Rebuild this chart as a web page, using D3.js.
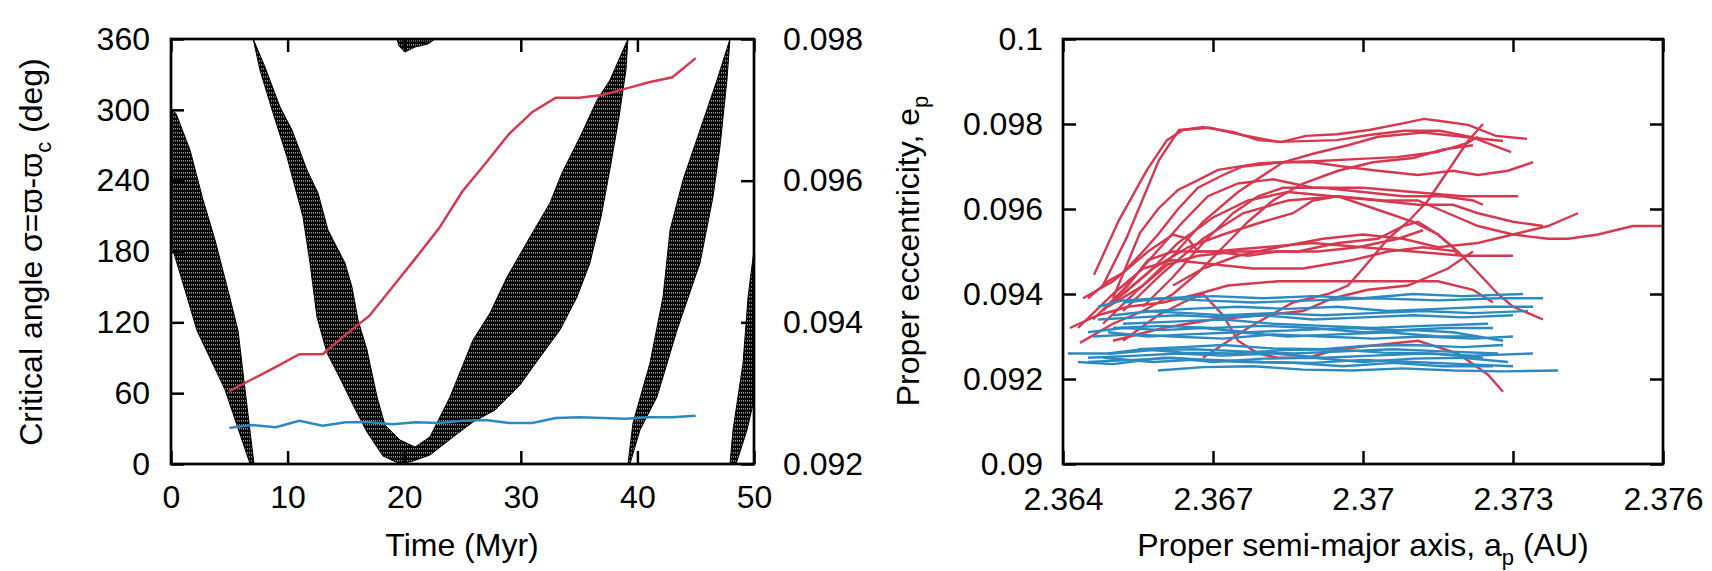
<!DOCTYPE html>
<meta charset="utf-8" />
<html>
<head>
<style>
  body { margin: 0; background: #fff; }
  text { font-family: "Liberation Sans", Arial, "DejaVu Sans", sans-serif; fill: #000; }
  .axis path { display: none; }
  .axis line { stroke: #000; stroke-width: 2.5px; }
  .axis text { font-size: 32px; }
</style>
</head>
<body>
<svg width="1712" height="571"></svg>
<script src="https://cdn.jsdelivr.net/npm/d3@7"></script>
<script>
// ---- left panel data ----
var timeTicks = [0, 10, 20, 30, 40, 50];
var angleTicks = [0, 60, 120, 180, 240, 300, 360];
var eccLeftTicks = [0.092, 0.094, 0.096, 0.098];

// sampling times of the two eccentricity tracks (Myr)
var trackTime = [5, 7, 9, 11, 13, 15, 17, 19, 21, 23, 25, 27, 29, 31, 33, 35, 37, 39, 41, 43, 45];
var redEcc = [0.09303, 0.09320, 0.09337, 0.09355, 0.09355, 0.09383, 0.09409, 0.09450, 0.09491, 0.09533,
  0.09585, 0.09625, 0.09666, 0.09697, 0.09717, 0.09717, 0.09721, 0.09730, 0.09739, 0.09746, 0.09773];
var blueEcc = [0.09251, 0.09255, 0.09252, 0.09261, 0.09254, 0.09259, 0.09259, 0.09256, 0.09259, 0.09258,
  0.09261, 0.09262, 0.09258, 0.09258, 0.09265, 0.09266, 0.09265, 0.09264, 0.09266, 0.09266, 0.09268];

// outlines [time, angle] of the dense circulating band of the critical angle
var bandA = [[0, 300], [0.43, 297], [1.63, 266], [2.74, 224], [3.77, 190], [4.89, 147], [5.75, 113], [6.35, 63],
  [7.12, 0], [6.78, 0], [4.63, 63], [2.23, 113], [0.94, 156], [0.17, 181], [0, 190]];
var bandB = [[7.05, 360], [8.06, 336.3], [9.35, 302.4], [10.38, 282.9], [11.66, 249.0], [12.61, 229.5],
  [13.46, 198.2], [14.92, 170.3], [15.52, 149.9], [16.04, 122.0], [16.81, 96.6], [17.67, 56.8], [18.35, 33.0],
  [19.64, 20.3], [20.93, 14.4], [22.21, 22.9], [23.93, 56.8], [25.90, 105.0], [27.36, 127.9], [28.82, 158.4],
  [30.79, 192.3], [32.50, 221.1], [33.53, 246.5], [35.08, 277.0], [36.54, 308.3], [37.65, 325.3], [38.51, 344.7],
  [39.19, 360], [39.02, 333.7], [38.42, 293.9], [37.74, 255.0], [36.88, 209.2], [35.93, 170.3], [34.82, 141.5],
  [33.36, 113.5], [31.65, 90.6], [29.93, 66.9], [27.79, 45.7], [25.90, 35.6], [24.19, 22.9], [22.21, 7.6],
  [20.75, 2.5], [19.64, 0], [18.18, 6.8], [16.81, 27.1], [15.61, 50.0], [14.49, 72.8], [13.38, 94.0],
  [12.52, 124.5], [11.92, 170.3], [11.32, 209.2], [9.95, 260.0], [8.75, 297.3], [7.63, 333.7]];
var bandC = [[39.19, 0], [39.62, 34.7], [41.08, 85.5], [42.20, 141.5], [42.80, 198.2], [43.91, 240.6],
  [45.37, 282.9], [46.83, 325.3], [47.94, 360], [47.68, 325.3], [47.08, 268.5], [46.48, 226.2], [45.37, 170.3],
  [43.40, 113.5], [41.68, 56.8], [40.22, 28.8], [39.36, 0]];
var bandD = [[47.94, 0], [48.20, 28.8], [49.06, 85.5], [49.49, 141.5], [50, 181.3], [50, 54.2], [49.40, 28.8], [48.46, 0]];
var bandE = [[19.38, 360], [22.64, 360], [22.04, 355.8], [20.93, 353.2], [20.07, 349], [19.55, 354]];
var bands = [bandA, bandB, bandC, bandD, bandE];

// ---- right panel data ----
var semiTicks = [2.364, 2.367, 2.37, 2.373, 2.376];
var semiLabels = ["2.364", "2.367", "2.37", "2.373", "2.376"];
var eccTicks = [0.09, 0.092, 0.094, 0.096, 0.098, 0.1];
var eccLabels = ["0.09", "0.092", "0.094", "0.096", "0.098", "0.1"];

// [a_p, e_p] tracks
var redTracks = [
  [[2.36462, 0.09445], [2.36512, 0.09574], [2.36568, 0.09692], [2.36608, 0.09762], [2.3664, 0.09786], [2.3668, 0.09793], [2.36742, 0.09781], [2.3679, 0.09762], [2.36838, 0.09758], [2.36886, 0.09772], [2.36948, 0.09776], [2.37012, 0.09786], [2.37082, 0.09802], [2.37122, 0.09812], [2.37154, 0.09807], [2.3721, 0.09798], [2.37266, 0.09772], [2.37328, 0.09765]],
  [[2.36478, 0.09416], [2.36528, 0.09534], [2.36592, 0.09715], [2.36632, 0.09786], [2.36694, 0.09791], [2.36758, 0.09774], [2.3683, 0.09758], [2.36948, 0.09762], [2.37012, 0.09774], [2.37082, 0.09784], [2.37154, 0.09784], [2.37218, 0.09769], [2.37296, 0.09734]],
  [[2.3645, 0.0939], [2.3649, 0.0943], [2.3652, 0.0945], [2.3656, 0.0950], [2.3659, 0.0954], [2.3663, 0.0960], [2.3667, 0.0965], [2.3672, 0.0968], [2.3676, 0.0970], [2.3684, 0.0971], [2.3690, 0.0971], [2.3696, 0.0970], [2.3703, 0.0969], [2.3711, 0.0968], [2.3718, 0.0969], [2.3723, 0.0968], [2.3729, 0.0969], [2.3734, 0.0971]],
  [[2.3646, 0.0934], [2.3652, 0.0941], [2.3658, 0.0949], [2.3664, 0.0957], [2.3669, 0.0963], [2.3675, 0.0966], [2.3682, 0.0967], [2.3690, 0.0965], [2.3700, 0.0965], [2.3710, 0.0964], [2.3720, 0.0963], [2.3731, 0.0963]],
  [[2.3649, 0.0937], [2.3656, 0.0942], [2.3662, 0.0949], [2.3668, 0.0957], [2.3675, 0.0964], [2.3684, 0.0971], [2.3690, 0.0973], [2.3697, 0.0975], [2.3703, 0.0977], [2.3712, 0.0978], [2.3720, 0.0977], [2.3728, 0.0976]],
  [[2.3650, 0.0939], [2.36554, 0.09544], [2.3659, 0.0960], [2.3663, 0.09645], [2.3667, 0.09668], [2.3671, 0.09692], [2.36748, 0.09699], [2.36794, 0.09708], [2.36834, 0.0971], [2.36914, 0.09713], [2.36994, 0.09718], [2.37068, 0.09722], [2.37148, 0.09734], [2.37208, 0.09755], [2.3723, 0.0977]],
  [[2.3650, 0.0938], [2.3657, 0.0945], [2.3663, 0.0952], [2.3670, 0.0958], [2.3677, 0.0962], [2.3685, 0.0964], [2.3694, 0.0963], [2.3703, 0.0962], [2.3711, 0.0961], [2.3718, 0.0961], [2.3723, 0.0959], [2.3730, 0.0957], [2.3736, 0.0956]],
  [[2.3652, 0.0936], [2.3660, 0.0945], [2.3668, 0.0953], [2.3676, 0.0959], [2.3685, 0.0962], [2.3695, 0.0963], [2.3704, 0.0962], [2.3711, 0.0962], [2.3717, 0.0959], [2.3723, 0.0956], [2.3730, 0.0954], [2.3737, 0.0953], [2.3741, 0.0953], [2.3747, 0.0954], [2.3754, 0.0956], [2.3760, 0.0956]],
  [[2.3662, 0.0942], [2.3668, 0.0946], [2.3675, 0.0949], [2.3683, 0.0951], [2.3692, 0.0953], [2.3700, 0.0954], [2.3708, 0.0953], [2.3715, 0.0951], [2.3723, 0.0952], [2.3730, 0.0954], [2.3737, 0.0956], [2.3743, 0.0959]],
  [[2.3648, 0.0936], [2.3653, 0.0942], [2.3657, 0.0948], [2.3662, 0.0950], [2.3670, 0.0950], [2.3680, 0.0951], [2.3690, 0.0952], [2.3700, 0.0951], [2.3710, 0.0950], [2.3720, 0.0949], [2.3730, 0.0949]],
  [[2.3644, 0.0939], [2.3650, 0.0943], [2.3657, 0.0950], [2.3662, 0.0954], [2.3665, 0.0953], [2.3667, 0.0950], [2.3670, 0.0950], [2.3677, 0.0949], [2.3683, 0.0950], [2.3691, 0.0950], [2.3699, 0.0951], [2.3707, 0.0953], [2.3712, 0.0955]],
  [[2.3652, 0.0940], [2.3658, 0.0946], [2.3665, 0.0951], [2.3672, 0.0954], [2.3680, 0.0957], [2.3686, 0.0959], [2.3690, 0.0962], [2.3695, 0.0963], [2.3700, 0.0961], [2.3705, 0.0959], [2.3710, 0.0957], [2.3715, 0.0954], [2.3718, 0.0951], [2.3719, 0.0949]],
  [[2.3656, 0.0937], [2.3662, 0.0944], [2.3668, 0.0952], [2.3674, 0.0959], [2.3679, 0.0963], [2.3684, 0.0965], [2.3692, 0.0965], [2.3700, 0.0964], [2.3708, 0.0963], [2.3716, 0.0963], [2.3722, 0.0962], [2.3724, 0.0961]],
  [[2.3668, 0.0925], [2.3677, 0.0932], [2.3686, 0.0938], [2.3693, 0.0940], [2.3697, 0.0942], [2.3700, 0.0946], [2.3705, 0.0953], [2.3709, 0.0957], [2.3713, 0.0962], [2.3717, 0.0969], [2.3721, 0.0976], [2.3724, 0.0980]],
  [[2.3652, 0.0929], [2.3659, 0.0935], [2.3664, 0.0938], [2.3668, 0.0940], [2.3672, 0.0935], [2.3675, 0.0929], [2.3679, 0.0926], [2.3683, 0.0925], [2.3689, 0.0925], [2.3695, 0.0927], [2.3703, 0.0928], [2.3711, 0.0929], [2.3719, 0.0926], [2.3725, 0.0921], [2.3728, 0.0917]],
  [[2.3648, 0.0933], [2.3655, 0.0941], [2.3661, 0.0947], [2.3667, 0.0949], [2.3675, 0.0950], [2.3687, 0.0950], [2.3695, 0.0952], [2.3703, 0.0953], [2.3708, 0.0956], [2.3711, 0.0957], [2.3715, 0.0954], [2.3719, 0.0950], [2.3723, 0.0945], [2.3727, 0.0940], [2.3730, 0.0937], [2.3736, 0.0934]],
  [[2.3650, 0.0929], [2.3660, 0.0932], [2.3670, 0.0934], [2.3680, 0.0935], [2.3688, 0.0936], [2.3694, 0.0939], [2.3701, 0.0941], [2.3709, 0.0942], [2.3717, 0.0946], [2.3722, 0.0950]],
  [[2.36414, 0.0932], [2.3647, 0.0935], [2.3653, 0.0937], [2.3660, 0.0938], [2.3667, 0.0940], [2.3673, 0.0942], [2.3683, 0.0943], [2.3695, 0.0943], [2.3705, 0.0943], [2.3715, 0.0943], [2.3722, 0.0941], [2.3726, 0.0938]],
  [[2.3643, 0.0932], [2.3650, 0.0940], [2.3656, 0.0946], [2.3662, 0.0948], [2.3670, 0.0947], [2.3678, 0.0946], [2.3688, 0.0946], [2.3698, 0.0948], [2.3705, 0.0950], [2.3712, 0.0951], [2.3719, 0.0950]],
  [[2.36434, 0.09285], [2.3650, 0.0933], [2.3656, 0.0936], [2.3662, 0.0940], [2.3667, 0.0945], [2.3672, 0.0951], [2.3677, 0.0957], [2.3682, 0.0962], [2.3688, 0.0966], [2.3695, 0.0969], [2.3702, 0.0971], [2.3710, 0.0972], [2.3716, 0.0974], [2.3722, 0.0975]]
];

var blueTracks = [
  [[2.3647, 0.0937], [2.3652, 0.09385], [2.3660, 0.0939], [2.3670, 0.09395], [2.3680, 0.0939], [2.3690, 0.09395], [2.3700, 0.0939], [2.3710, 0.0940], [2.3720, 0.09395], [2.3732, 0.0940]],
  [[2.3652, 0.0938], [2.3660, 0.0939], [2.3668, 0.09385], [2.3678, 0.0938], [2.3690, 0.09385], [2.3702, 0.0939], [2.3715, 0.09385], [2.3727, 0.0939], [2.3736, 0.0939]],
  [[2.3650, 0.0935], [2.3658, 0.0936], [2.3665, 0.09365], [2.3675, 0.0937], [2.3685, 0.09365], [2.3695, 0.0937], [2.3705, 0.0936], [2.3715, 0.09365], [2.3725, 0.0937], [2.3734, 0.0937]],
  [[2.3656, 0.0936], [2.3665, 0.09355], [2.3672, 0.0935], [2.3682, 0.09355], [2.3692, 0.0935], [2.3702, 0.09355], [2.3712, 0.0936], [2.3722, 0.09355], [2.3733, 0.0936]],
  [[2.3647, 0.0934], [2.3655, 0.09345], [2.3663, 0.0935], [2.3672, 0.09345], [2.3680, 0.0935], [2.3690, 0.0934], [2.3700, 0.09345], [2.3710, 0.0935], [2.3720, 0.09345], [2.3730, 0.0935]],
  [[2.3652, 0.0933], [2.3662, 0.09335], [2.3672, 0.0934], [2.3682, 0.0933], [2.3692, 0.09325], [2.3702, 0.0932], [2.3712, 0.09325], [2.3725, 0.0933]],
  [[2.3645, 0.0931], [2.3652, 0.0932], [2.3660, 0.09315], [2.3668, 0.0932], [2.3677, 0.0931], [2.3687, 0.09315], [2.3697, 0.0932], [2.3707, 0.09315], [2.3717, 0.0932], [2.3726, 0.0932]],
  [[2.3649, 0.0931], [2.3657, 0.0930], [2.3665, 0.09305], [2.3675, 0.0931], [2.3685, 0.0930], [2.3695, 0.09305], [2.3705, 0.0931], [2.3715, 0.0930], [2.3723, 0.0930]],
  [[2.3646, 0.0930], [2.3654, 0.09305], [2.3662, 0.0930], [2.3672, 0.09295], [2.3682, 0.09305], [2.3692, 0.0930], [2.3702, 0.09295], [2.3712, 0.0930], [2.3722, 0.09295], [2.3730, 0.0930]],
  [[2.3650, 0.0932], [2.3660, 0.09325], [2.3670, 0.0932], [2.3680, 0.09325], [2.3690, 0.0932], [2.3700, 0.0931], [2.3710, 0.09315], [2.3718, 0.0931], [2.3728, 0.0929]],
  [[2.3641, 0.0926], [2.3650, 0.0926], [2.3658, 0.09268], [2.3666, 0.0927], [2.3676, 0.09265], [2.3686, 0.0926], [2.3696, 0.09265], [2.3706, 0.0927], [2.3716, 0.09265], [2.3727, 0.0926]],
  [[2.3645, 0.0925], [2.3655, 0.09255], [2.3663, 0.0926], [2.3672, 0.09255], [2.3682, 0.0926], [2.3692, 0.0925], [2.3702, 0.09255], [2.3712, 0.0926], [2.3722, 0.09255], [2.3734, 0.0926]],
  [[2.3645, 0.0924], [2.3654, 0.09245], [2.3662, 0.0925], [2.3670, 0.0924], [2.3680, 0.09248], [2.3690, 0.0925], [2.3700, 0.0924], [2.3710, 0.09248], [2.3720, 0.0925], [2.3729, 0.0924]],
  [[2.3649, 0.0926], [2.3656, 0.0927], [2.3664, 0.09262], [2.3674, 0.0926], [2.3684, 0.09268], [2.3694, 0.0927], [2.3704, 0.09262], [2.3714, 0.0926], [2.3724, 0.0925]],
  [[2.3655, 0.0927], [2.3664, 0.09275], [2.3672, 0.0928], [2.3682, 0.09272], [2.3692, 0.0927], [2.3700, 0.09278], [2.3710, 0.0928], [2.3720, 0.09275], [2.3728, 0.0928]],
  [[2.3648, 0.0925], [2.3658, 0.0924], [2.3666, 0.09245], [2.3676, 0.0924], [2.3686, 0.09238], [2.3696, 0.0923], [2.3706, 0.09238], [2.3716, 0.0923], [2.3726, 0.0923]],
  [[2.3659, 0.0922], [2.3668, 0.09228], [2.3678, 0.0923], [2.3688, 0.09222], [2.3698, 0.0922], [2.3708, 0.09225], [2.3718, 0.0922], [2.3728, 0.09218], [2.3739, 0.0922]],
  [[2.3643, 0.0924], [2.3650, 0.09235], [2.3660, 0.0925], [2.3670, 0.09245], [2.3680, 0.0924], [2.3690, 0.09238], [2.3700, 0.09245], [2.3710, 0.0924], [2.3720, 0.09235], [2.3730, 0.0923]]
];

var RED = "#d6394f";
var BLUE = "#2b8ac2";

var svg = d3.select("svg");

// texture for the dense band
var defs = svg.append("defs");
var pat = defs.append("pattern").attr("id", "dense").attr("patternUnits", "userSpaceOnUse")
  .attr("width", 2).attr("height", 4);
pat.append("rect").attr("width", 2).attr("height", 4).attr("fill", "#000");
pat.append("rect").attr("x", 1.4).attr("y", 0).attr("width", 0.6).attr("height", 1.5).attr("fill", "#fff");

// ================= left panel =================
var xT = d3.scaleLinear().domain([0, 50]).range([171, 754]);
var yA = d3.scaleLinear().domain([0, 360]).range([464, 39]);
var yE = d3.scaleLinear().domain([0.092, 0.098]).range([464, 39]);

defs.append("clipPath").attr("id", "clipL").append("rect")
  .attr("x", 171).attr("y", 39).attr("width", 583).attr("height", 425);

var gL = svg.append("g");
gL.append("g").attr("clip-path", "url(#clipL)")
  .selectAll("path").data(bands).enter().append("path")
  .attr("d", function (d) {
    return "M" + d.map(function (p) { return xT(p[0]) + "," + yA(p[1]); }).join("L") + "Z";
  })
  .attr("fill", "url(#dense)")
  .attr("stroke", "#000").attr("stroke-width", 1);

var lineL = d3.line()
  .x(function (d, i) { return xT(trackTime[i]); })
  .y(function (d) { return yE(d); });

gL.append("path").datum(blueEcc).attr("d", lineL)
  .attr("fill", "none").attr("stroke", BLUE).attr("stroke-width", 2.5);
gL.append("path").datum(redEcc).attr("d", lineL)
  .attr("fill", "none").attr("stroke", RED).attr("stroke-width", 2.5);

gL.append("g").attr("class", "axis").attr("transform", "translate(0,464)")
  .call(d3.axisBottom(xT).tickValues(timeTicks).tickSize(-13).tickSizeOuter(0).tickPadding(21));
gL.append("g").attr("class", "axis").attr("transform", "translate(0,39)")
  .call(d3.axisTop(xT).tickValues(timeTicks).tickSize(-13).tickSizeOuter(0).tickFormat(""));
gL.append("g").attr("class", "axis").attr("transform", "translate(171,0)")
  .call(d3.axisLeft(yA).tickValues(angleTicks).tickSize(-13).tickSizeOuter(0).tickPadding(21));
gL.append("g").attr("class", "axis").attr("transform", "translate(754,0)")
  .call(d3.axisRight(yE).tickValues(eccLeftTicks).tickSize(-13).tickSizeOuter(0).tickPadding(29)
    .tickFormat(d3.format(".3f")));

gL.append("rect").attr("x", 171).attr("y", 39).attr("width", 583).attr("height", 425)
  .attr("fill", "none").attr("stroke", "#000").attr("stroke-width", 2.7);

gL.append("text").attr("x", 462).attr("y", 556).attr("text-anchor", "middle")
  .style("font-size", "32px").text("Time (Myr)");

var tl = gL.append("text").attr("transform", "translate(42,252) rotate(-90)")
  .attr("text-anchor", "middle").style("font-size", "32px");
tl.append("tspan").text("Critical angle σ=ϖ-ϖ");
tl.append("tspan").attr("dy", 9).style("font-size", "22px").text("c");
tl.append("tspan").attr("dy", -9).text(" (deg)");

// ================= right panel =================
var xA = d3.scaleLinear().domain([2.364, 2.376]).range([1063, 1663]);
var yP = d3.scaleLinear().domain([0.09, 0.1]).range([464, 39]);

var gR = svg.append("g");
var lineR = d3.line()
  .x(function (d) { return xA(d[0]); })
  .y(function (d) { return yP(d[1]); });

gR.append("g").selectAll("path").data(redTracks).enter().append("path")
  .attr("d", lineR).attr("fill", "none").attr("stroke", RED).attr("stroke-width", 2.4);
gR.append("g").selectAll("path").data(blueTracks).enter().append("path")
  .attr("d", lineR).attr("fill", "none").attr("stroke", BLUE).attr("stroke-width", 2.4);

gR.append("g").attr("class", "axis").attr("transform", "translate(0,464)")
  .call(d3.axisBottom(xA).tickValues(semiTicks).tickSize(-13).tickSizeOuter(0).tickPadding(23)
    .tickFormat(function (d, i) { return semiLabels[i]; }));
gR.append("g").attr("class", "axis").attr("transform", "translate(0,39)")
  .call(d3.axisTop(xA).tickValues(semiTicks).tickSize(-13).tickSizeOuter(0).tickFormat(""));
gR.append("g").attr("class", "axis").attr("transform", "translate(1063,0)")
  .call(d3.axisLeft(yP).tickValues(eccTicks).tickSize(-13).tickSizeOuter(0).tickPadding(20)
    .tickFormat(function (d, i) { return eccLabels[i]; }));
gR.append("g").attr("class", "axis").attr("transform", "translate(1663,0)")
  .call(d3.axisRight(yP).tickValues(eccTicks).tickSize(-13).tickSizeOuter(0).tickFormat(""));

gR.append("rect").attr("x", 1063).attr("y", 39).attr("width", 600).attr("height", 425)
  .attr("fill", "none").attr("stroke", "#000").attr("stroke-width", 2.7);

var xl = gR.append("text").attr("x", 1363).attr("y", 556).attr("text-anchor", "middle")
  .style("font-size", "32px");
xl.append("tspan").text("Proper semi-major axis, a");
xl.append("tspan").attr("dy", 9).style("font-size", "22px").text("p");
xl.append("tspan").attr("dy", -9).text(" (AU)");

var yl = gR.append("text").attr("transform", "translate(919,251) rotate(-90)")
  .attr("text-anchor", "middle").style("font-size", "32px");
yl.append("tspan").text("Proper eccentricity, e");
yl.append("tspan").attr("dy", 9).style("font-size", "22px").text("p");
</script>
</body>
</html>
